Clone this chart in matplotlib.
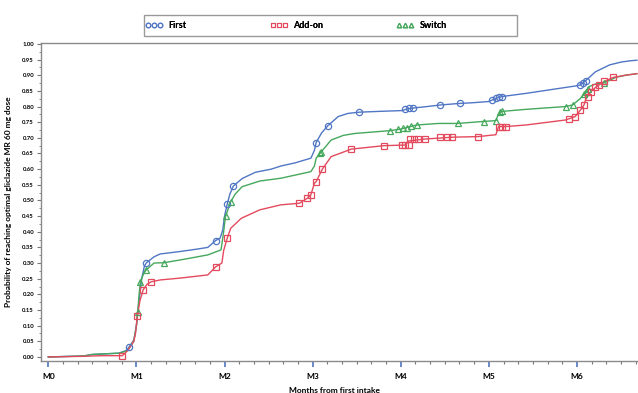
import matplotlib
matplotlib.use("Agg")
import matplotlib.pyplot as plt
from matplotlib.lines import Line2D
from matplotlib.patches import Rectangle
from matplotlib.ticker import MultipleLocator

plt.rcParams["font.family"] = ["Lato", "DejaVu Sans"]
plt.rcParams["font.weight"] = "bold"

# curve knots (months, probability)
first_x = [0, 0.4, 0.5, 0.8, 0.88, 0.92, 0.97, 1.0, 1.03, 1.06, 1.09, 1.114, 1.2, 1.27, 1.5, 1.7,
           1.81, 1.9, 1.95, 1.98, 2.0, 2.03, 2.06, 2.10, 2.2, 2.35, 2.53, 2.64, 2.8, 2.98, 3.02,
           3.04, 3.1, 3.17, 3.29, 3.4, 3.53, 3.8, 4.01, 4.1, 4.3, 4.45, 4.67, 4.81, 5.0, 5.08,
           5.15, 5.42, 5.8, 5.99, 6.04, 6.1, 6.21, 6.37, 6.5, 6.6, 6.68]
first_y = [0, 0.003, 0.008, 0.012, 0.02, 0.033, 0.054, 0.10, 0.18, 0.25, 0.29, 0.301, 0.32, 0.329,
           0.337, 0.345, 0.35, 0.372, 0.38, 0.406, 0.45, 0.488, 0.52, 0.546, 0.57, 0.59, 0.60,
           0.61, 0.62, 0.635, 0.66, 0.685, 0.715, 0.738, 0.768, 0.778, 0.782, 0.785, 0.787,
           0.794, 0.80, 0.805, 0.81, 0.812, 0.816, 0.826, 0.832, 0.842, 0.858, 0.866, 0.869,
           0.883, 0.911, 0.933, 0.942, 0.946, 0.948]

addon_x = [0, 0.4, 0.6, 0.84, 0.9, 0.97, 0.99, 1.01, 1.04, 1.076, 1.12, 1.167, 1.27, 1.5, 1.81,
           1.9, 1.97, 1.99, 2.03, 2.07, 2.19, 2.4, 2.64, 2.85, 2.94, 2.98, 3.02, 3.04, 3.11, 3.21,
           3.44, 3.81, 4.05, 4.09, 4.27, 4.58, 4.88, 5.08, 5.11, 5.19, 5.42, 5.87, 5.98, 6.04,
           6.08, 6.1, 6.16, 6.21, 6.25, 6.31, 6.41, 6.55, 6.68]
addon_y = [0, 0.002, 0.004, 0.004, 0.02, 0.05, 0.076, 0.132, 0.18, 0.214, 0.232, 0.24, 0.246,
           0.252, 0.262, 0.288, 0.30, 0.34, 0.379, 0.411, 0.443, 0.47, 0.486, 0.491, 0.507,
           0.518, 0.555, 0.56, 0.60, 0.64, 0.664, 0.675, 0.677, 0.69, 0.696, 0.702, 0.704,
           0.71, 0.736, 0.736, 0.741, 0.757, 0.768, 0.789, 0.805, 0.823, 0.848, 0.861, 0.869,
           0.88, 0.893, 0.90, 0.905]

switch_x = [0, 0.4, 0.5, 0.8, 0.9, 0.97, 1.0, 1.015, 1.03, 1.045, 1.08, 1.11, 1.2, 1.31, 1.5,
            1.81, 1.96, 1.99, 2.01, 2.07, 2.12, 2.2, 2.4, 2.64, 2.98, 3.02, 3.04, 3.10, 3.21,
            3.35, 3.48, 3.88, 4.0, 4.18, 4.43, 4.65, 4.92, 5.08, 5.1, 5.13, 5.42, 5.87, 5.95,
            6.04, 6.1, 6.14, 6.21, 6.31, 6.44, 6.55, 6.68]
switch_y = [0, 0.003, 0.008, 0.012, 0.02, 0.05, 0.10, 0.145, 0.2, 0.24, 0.265, 0.278, 0.30,
            0.301, 0.31, 0.326, 0.342, 0.40, 0.448, 0.496, 0.52, 0.544, 0.562, 0.571, 0.592,
            0.61, 0.635, 0.656, 0.693, 0.708, 0.714, 0.723, 0.728, 0.741, 0.746, 0.746, 0.752,
            0.755, 0.77, 0.784, 0.791, 0.80, 0.805, 0.826, 0.848, 0.864, 0.872, 0.876, 0.893,
            0.90, 0.905]

# censored points
first_cx = [0.915, 1.114, 1.90, 2.03, 2.10, 3.04, 3.17, 3.53, 4.05, 4.09, 4.14, 4.45, 4.67,
            5.04, 5.08, 5.12, 5.15, 6.04, 6.07, 6.1]
first_cy = [0.033, 0.301, 0.372, 0.488, 0.546, 0.685, 0.738, 0.782, 0.792, 0.794, 0.796, 0.805,
            0.81, 0.821, 0.826, 0.83, 0.832, 0.869, 0.876, 0.883]

addon_cx = [0.84, 1.01, 1.076, 1.167, 1.90, 2.03, 2.85, 2.94, 2.98, 3.04, 3.11, 3.44, 3.81,
            4.01, 4.05, 4.09, 4.10, 4.15, 4.2, 4.27, 4.44, 4.52, 4.58, 4.88, 5.11, 5.15, 5.19,
            5.91, 5.98, 6.04, 6.08, 6.12, 6.16, 6.21, 6.25, 6.31, 6.41]
addon_cy = [0.004, 0.132, 0.214, 0.24, 0.288, 0.379, 0.491, 0.507, 0.518, 0.56, 0.60, 0.664,
            0.675, 0.677, 0.677, 0.677, 0.696, 0.696, 0.696, 0.696, 0.702, 0.702, 0.702, 0.704,
            0.736, 0.736, 0.736, 0.759, 0.768, 0.789, 0.805, 0.83, 0.848, 0.861, 0.869, 0.88,
            0.893]

switch_cx = [1.015, 1.045, 1.11, 1.31, 2.02, 2.07, 3.08, 3.10, 3.88, 3.97, 4.02, 4.07, 4.12,
             4.18, 4.65, 4.94, 5.08, 5.13, 5.15, 5.88, 5.95, 6.08, 6.1, 6.12, 6.31]
switch_cy = [0.145, 0.24, 0.278, 0.301, 0.45, 0.496, 0.65, 0.656, 0.723, 0.727, 0.73, 0.733,
             0.737, 0.741, 0.746, 0.752, 0.755, 0.784, 0.785, 0.80, 0.805, 0.84, 0.848, 0.856,
             0.876]

month_labels = ["M0", "M1", "M2", "M3", "M4", "M5", "M6"]
group_names = ["First", "Add-on", "Switch"]

c_first = "#5076c4"
c_addon = "#e34a5e"
c_switch = "#45a85d"

fig = plt.figure(figsize=(6.38, 3.93), dpi=100)
ax = fig.add_axes([0.0643, 0.0822, 0.94, 0.8076])

ax.plot(first_x, first_y, color=c_first, lw=1.0)
ax.plot(switch_x, switch_y, color=c_switch, lw=1.0)
ax.plot(addon_x, addon_y, color=c_addon, lw=1.0)

mk = dict(linestyle="none", markerfacecolor="none", markersize=4.5, markeredgewidth=0.9)
ax.plot(first_cx, first_cy, marker="o", color=c_first, **mk)
ax.plot(switch_cx, switch_cy, marker="^", color=c_switch, **mk)
ax.plot(addon_cx, addon_cy, marker="s", color=c_addon, **mk)

ax.set_xlim(-0.083, 6.724)
ax.set_ylim(-0.012, 1.002)

ax.set_xticks(range(len(month_labels)))
ax.set_xticklabels(month_labels, fontsize=6, fontweight="bold")
ax.xaxis.set_minor_locator(MultipleLocator(1 / 6))
ax.yaxis.set_major_locator(MultipleLocator(0.05))
ax.yaxis.set_minor_locator(MultipleLocator(0.025))
ax.set_yticklabels([f"{v:.2f}" for v in ax.get_yticks()], fontsize=4.3, fontweight="bold")
ax.tick_params(axis="x", which="major", length=4, width=1.2, color=c_first, pad=5)
ax.tick_params(axis="x", which="minor", length=2.5, width=0.8, color="#777777")
ax.tick_params(axis="y", which="major", length=3, width=0.8, color="#777777", pad=2)
ax.tick_params(axis="y", which="minor", length=1.5, width=0.6, color="#777777")

ax.set_xlabel("Months from first intake", fontsize=6, fontweight="bold")
ax.xaxis.set_label_coords(0.49, -0.082)
ax.set_ylabel("Probability of reaching optimal gliclazide MR 60 mg dose", fontsize=6,
              fontweight="bold")
ax.yaxis.set_label_coords(-0.049, 0.5)

for s in ["left", "bottom", "top"]:
    ax.spines[s].set_color("#8a8a8a")
    ax.spines[s].set_linewidth(1.0)
ax.spines["right"].set_visible(False)

# legend: grey box with three entries spaced out like the original
fig.add_artist(Rectangle((144 / 638, 1 - 36 / 393), 373 / 638, 21 / 393,
                         transform=fig.transFigure, facecolor="white",
                         edgecolor="#9a9a9a", linewidth=1.0))
lk = dict(linestyle="none", markerfacecolor="none", markersize=3.3, markeredgewidth=0.8)
handles = [
    Line2D([], [], marker="o", color=c_first, **lk),
    Line2D([], [], marker="s", color=c_addon, **lk),
    Line2D([], [], marker="^", color=c_switch, **lk),
]
for h, name, xpx in zip(handles, group_names, [145, 270, 396]):
    leg = fig.legend([h], [name], numpoints=3, loc="center left",
                     bbox_to_anchor=(xpx / 638, 1 - 25.5 / 393), fontsize=6.5,
                     frameon=False, handlelength=2.0, handletextpad=0.6,
                     borderaxespad=0, borderpad=0)
    for t in leg.get_texts():
        t.set_fontweight("bold")
    fig.add_artist(leg)

fig.savefig("out.png", dpi=100)
